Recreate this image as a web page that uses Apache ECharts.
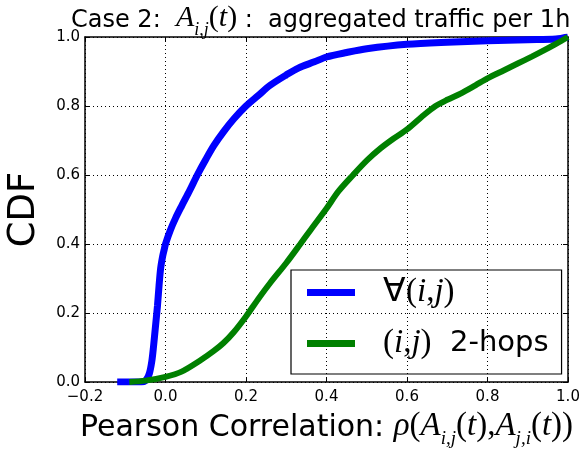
<!DOCTYPE html>
<html><head><meta charset="utf-8">
<script src="https://cdn.jsdelivr.net/npm/echarts@6/dist/echarts.min.js"></script>
<style>html,body{margin:0;padding:0;background:#fff}#c{width:583px;height:449px}</style>
</head><body><div id="c"></div>
<script>
// ---- data ----
const xTickLabels = ['\u22120.2', '0.0', '0.2', '0.4', '0.6', '0.8', '1.0'];
const yTickLabels = ['0.0', '0.2', '0.4', '0.6', '0.8', '1.0'];
const seriesNames = ['all', 'hops'];
const allX = [-0.12, -0.06, -0.048, -0.04, -0.034, -0.03, -0.025, -0.02, -0.016, -0.012, -0.007, -0.003, 0.0, 0.012, 0.025, 0.04, 0.06, 0.079, 0.1, 0.12, 0.144, 0.17, 0.2, 0.23, 0.26, 0.3, 0.33, 0.37, 0.4, 0.45, 0.5, 0.6, 0.7, 0.8, 0.9, 0.97, 1.0];
const allY = [0.0, 0.0, 0.006, 0.025, 0.06, 0.1, 0.16, 0.22, 0.28, 0.33, 0.365, 0.385, 0.40, 0.44, 0.475, 0.51, 0.555, 0.60, 0.645, 0.685, 0.725, 0.763, 0.80, 0.83, 0.86, 0.89, 0.91, 0.928, 0.942, 0.955, 0.966, 0.979, 0.985, 0.989, 0.992, 0.994, 1.0];
const hopX = [-0.09, -0.05, 0.0, 0.04, 0.087, 0.12, 0.144, 0.17, 0.2, 0.23, 0.26, 0.3, 0.335, 0.36, 0.4, 0.43, 0.466, 0.501, 0.534, 0.566, 0.6, 0.642, 0.671, 0.7, 0.733, 0.77, 0.8, 0.84, 0.875, 0.91, 0.94, 0.97, 1.0];
const hopY = [0.0, 0.004, 0.015, 0.03, 0.063, 0.09, 0.113, 0.145, 0.19, 0.24, 0.287, 0.345, 0.40, 0.44, 0.503, 0.553, 0.60, 0.643, 0.677, 0.705, 0.732, 0.774, 0.80, 0.818, 0.836, 0.86, 0.880, 0.903, 0.923, 0.943, 0.961, 0.98, 1.0];

const SANS = 'DejaVu Sans';
const SERIF = 'Liberation Serif';
function pairs(xs, ys) { return xs.map((x, i) => [x, ys[i]]); }

const chart = echarts.init(document.getElementById('c'), null, {renderer: 'canvas'});
const mathRich = (size, mSize, subSize, pad) => ({
  r: {fontFamily: SANS, fontSize: size, fontWeight: 'normal', color: '#000', verticalAlign: 'bottom', padding: [0, 0, pad, 0]},
  m: {fontFamily: SERIF, fontStyle: 'italic', fontWeight: 'normal', fontSize: mSize, color: '#000', verticalAlign: 'bottom', padding: [0, 0, pad, 0]},
  u: {fontFamily: SERIF, fontWeight: 'normal', fontSize: mSize, color: '#000', verticalAlign: 'bottom', padding: [0, 0, pad, 0]},
  s: {fontFamily: SERIF, fontStyle: 'italic', fontWeight: 'normal', fontSize: subSize, color: '#000', verticalAlign: 'bottom'}
});

chart.setOption({
  animation: false,
  backgroundColor: '#fff',
  title: {
    text: '{r|Case 2:  }{m|A}{s|i,j}{u|(}{m|t}{u|)}{r| :  aggregated traffic per 1h}',
    left: 71, top: 3, padding: 0,
    textStyle: {fontWeight: 'normal', rich: mathRich(24, 30, 18, 6)}
  },
  legend: {
    data: seriesNames,
    orient: 'vertical',
    left: 291, top: 270,
    padding: [6, 13, 14, 16],
    borderColor: '#000', borderWidth: 1.2, borderRadius: 0,
    itemWidth: 48, itemHeight: 7, itemGap: 18,
    icon: 'rect',
    formatter: function (name) {
      return name === 'all' ? '{u|\u2200(}{m|i}{u|,}{m|j}{u|)}' : '{u|(}{m|i}{u|,}{m|j}{u|)}{r|  2-hops}';
    },
    textStyle: {
      padding: [0, 0, 0, 23],
      rich: {
        r: {fontFamily: SANS, fontSize: 29, color: '#000', lineHeight: 30},
        m: {fontFamily: SERIF, fontStyle: 'italic', fontSize: 33, color: '#000', lineHeight: 30},
        u: {fontFamily: SERIF, fontSize: 33, color: '#000', lineHeight: 30}
      }
    }
  },
  grid: {left: 85, right: 15, top: 37, bottom: 67, containLabel: false, outerBoundsMode: 'none'},
  xAxis: [{
    type: 'value', min: -0.2, max: 1.0, interval: 0.2,
    axisLine: {onZero: false, lineStyle: {color: '#000', width: 1.5}},
    axisTick: {inside: true, length: 5, lineStyle: {color: '#000', width: 1}},
    axisLabel: {fontFamily: SANS, fontSize: 15, color: '#000', margin: 8,
      formatter: (v, i) => xTickLabels[i]},
    splitLine: {show: true, lineStyle: {color: '#000', type: [1, 3], width: 1}},
    name: '{r|Pearson Correlation: }{m|\u03c1}{u|(}{m|A}{s|i,j}{u|(}{m|t}{u|),}{m|A}{s|j,i}{u|(}{m|t}{u|))}',
    nameLocation: 'middle', nameGap: 26,
    nameTextStyle: {rich: mathRich(30, 33, 19, 6)}
  }, {
    type: 'value', min: -0.2, max: 1.0, interval: 0.2, position: 'top',
    axisLine: {onZero: false, lineStyle: {color: '#000', width: 1.5}},
    axisTick: {inside: true, length: 5, lineStyle: {color: '#000', width: 1}},
    axisLabel: {show: false}, splitLine: {show: false}
  }],
  yAxis: [{
    type: 'value', min: 0, max: 1.0, interval: 0.2,
    axisLine: {show: true, onZero: false, lineStyle: {color: '#000', width: 1.5}},
    axisTick: {show: true, inside: true, length: 5, lineStyle: {color: '#000', width: 1}},
    axisLabel: {fontFamily: SANS, fontSize: 15, color: '#000', margin: 5,
      formatter: (v, i) => yTickLabels[i]},
    splitLine: {show: true, lineStyle: {color: '#000', type: [1, 3], width: 1}},
    name: 'CDF', nameLocation: 'middle', nameGap: 42, nameRotate: 90,
    nameTextStyle: {fontFamily: SANS, fontSize: 37, color: '#000'}
  }, {
    type: 'value', min: 0, max: 1.0, interval: 0.2, position: 'right',
    axisLine: {show: true, onZero: false, lineStyle: {color: '#000', width: 1.5}},
    axisTick: {show: true, inside: true, length: 5, lineStyle: {color: '#000', width: 1}},
    axisLabel: {show: false}, splitLine: {show: false}
  }],
  series: [{
    name: seriesNames[0], type: 'line', data: pairs(allX, allY),
    showSymbol: false, smooth: 0.3, color: '#0000ff',
    lineStyle: {color: '#0000ff', width: 7}, z: 3
  }, {
    name: seriesNames[1], type: 'line', data: pairs(hopX, hopY),
    showSymbol: false, smooth: 0.3, color: '#008000',
    lineStyle: {color: '#008000', width: 6}, z: 4
  }]
});
</script></body></html>
